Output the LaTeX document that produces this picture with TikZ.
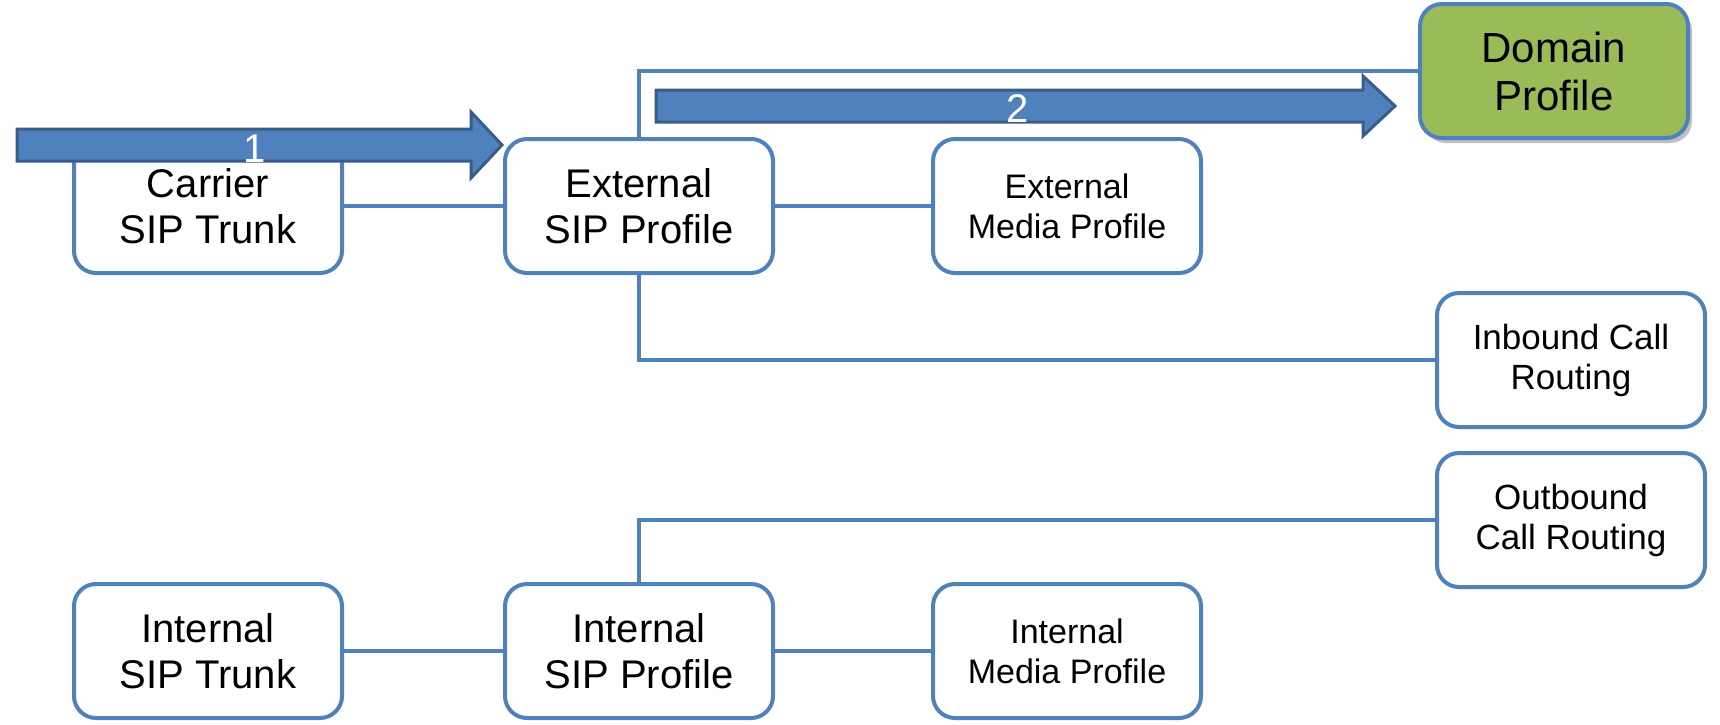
\documentclass[tikz,border=0pt]{standalone}
\usepackage{fontspec}
\setmainfont{Liberation Sans}
\usetikzlibrary{calc,shadows}
\definecolor{boxblue}{RGB}{79,129,189}
\definecolor{arrowedge}{RGB}{56,93,138}
\definecolor{domgreen}{RGB}{155,187,89}
\tikzset{
  sbox/.style={draw=boxblue, line width=4pt, rounded corners=22pt, fill=white, align=center,
    minimum width=268pt, minimum height=134pt, inner sep=0pt, font=\fontsize{40}{46}\selectfont},
  mbox/.style={sbox, font=\fontsize{34}{40}\selectfont},
  rbox/.style={sbox, font=\fontsize{35}{40}\selectfont},
  link/.style={draw=boxblue, line width=4pt},
  bigarrow/.style={fill=boxblue, draw=arrowedge, line width=3pt, line join=miter},
  numlabel/.style={text=white, font=\fontsize{40}{46}\selectfont, inner sep=0pt, anchor=base}
}
\begin{document}
\begin{tikzpicture}[x=1pt, y=-1pt]
\useasboundingbox (0,0) rectangle (1720,724);
% boxes
\node[sbox] (cst) at (208,206) {Carrier\\SIP Trunk};
\node[sbox] (esp) at (639,206) {External\\SIP Profile};
\node[mbox] (emp) at (1067,206) {External\\Media Profile};
\node[sbox, fill=domgreen, font=\fontsize{42}{48}\selectfont,
  drop shadow={shadow xshift=4pt, shadow yshift=-5pt, opacity=0.25, fill=black}] (dom) at (1554,71) {Domain\\Profile};
\node[rbox] (inb) at (1571,360) {Inbound Call\\Routing};
\node[rbox] (outb) at (1571,520) {Outbound\\Call Routing};
\node[sbox] (ist) at (208,651) {Internal\\SIP Trunk};
\node[sbox] (isp) at (639,651) {Internal\\SIP Profile};
\node[mbox] (imp) at (1067,651) {Internal\\Media Profile};
% connectors
\draw[link] (cst.east) -- (esp.west);
\draw[link] (esp.east) -- (emp.west);
\draw[link] (esp.north) |- (dom.west);
\draw[link] (esp.south) |- (inb.west);
\draw[link] (ist.east) -- (isp.west);
\draw[link] (isp.east) -- (imp.west);
\draw[link] (isp.north) |- (outb.west);
% big arrows
\coordinate (a1s) at (17,145);
\coordinate (a1e) at (502,145);
\coordinate (a2s) at (656,106);
\coordinate (a2e) at (1395,106);
\path[bigarrow] ($(a1s)+(0,-16)$) -- ($(a1e)+(-31,-16)$) -- ($(a1e)+(-31,-33)$) -- (a1e)
  -- ($(a1e)+(-31,33)$) -- ($(a1e)+(-31,16)$) -- ($(a1s)+(0,16)$) -- cycle;
\path[bigarrow] ($(a2s)+(0,-16)$) -- ($(a2e)+(-32,-16)$) -- ($(a2e)+(-32,-30)$) -- (a2e)
  -- ($(a2e)+(-32,30)$) -- ($(a2e)+(-32,16)$) -- ($(a2s)+(0,16)$) -- cycle;
\node[numlabel] (l1) at (255,162) {1};
\node[numlabel] (l2) at (1018,122) {2};
\end{tikzpicture}
\end{document}
